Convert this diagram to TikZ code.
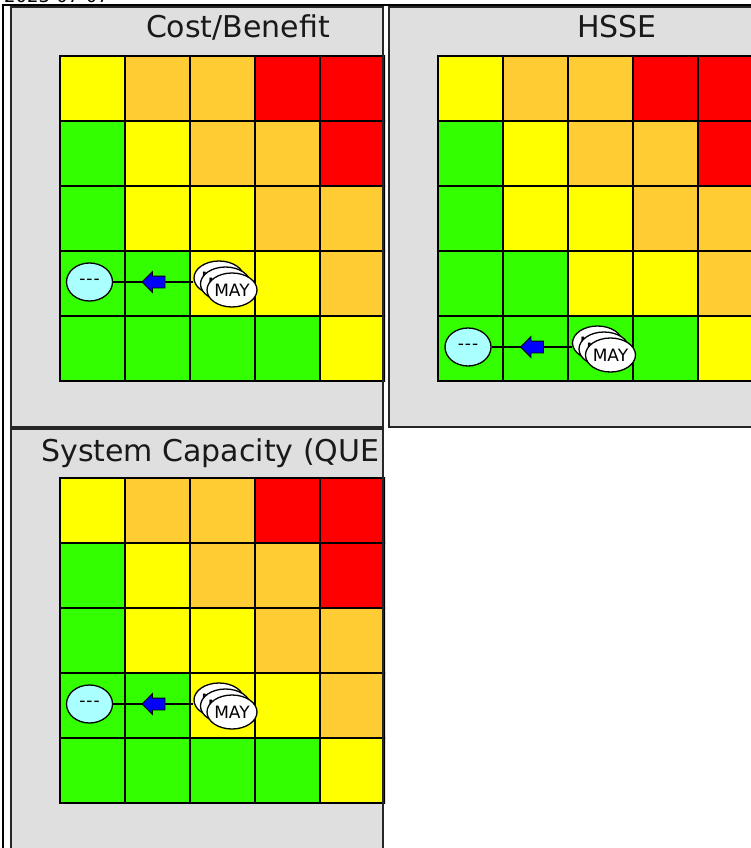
\documentclass[tikz,border=0pt]{standalone}
\usepackage{fontspec}
\setmainfont{DejaVu Sans}
\usepackage{xcolor}
\usetikzlibrary{shapes.geometric, shapes.arrows}
\definecolor{riskR}{HTML}{FF0000}
\definecolor{riskO}{HTML}{FFCC33}
\definecolor{riskY}{HTML}{FFFF00}
\definecolor{riskG}{HTML}{33FF00}
\definecolor{panelgrey}{HTML}{DFDFDF}
\definecolor{nonecyan}{HTML}{AAFFFF}
\definecolor{flowblue}{HTML}{0000FF}

% one 5x5 risk matrix, top left corner at (#1,#2)
\newcommand{\riskgrid}[2]{%
  \foreach \cellrow [count=\rowidx from 0] in
      {{Y,O,O,R,R},{G,Y,O,O,R},{G,Y,Y,O,O},{G,G,Y,Y,O},{G,G,G,G,Y}}
    \foreach \cellcol [count=\colidx from 0] in \cellrow
      \draw[cell, fill=risk\cellcol]
        ({#1+65*\colidx},{#2+65*\rowidx}) rectangle ++(65,65);%
}

\begin{document}
\begin{tikzpicture}[
    x=1pt, y=-1pt,
    every node/.style={font=\fontsize{17}{20}\selectfont},
    stamp/.style={font=\fontsize{18}{21}\selectfont, inner sep=0pt},
    panel/.style={draw=black!85, line width=1.5pt},
    cell/.style={draw=black, line width=1.6pt},
    title/.style={font=\fontsize{30}{36}\selectfont, text=black!90, inner sep=0pt},
    nonemark/.style={
      ellipse, draw=black, line width=1.3pt, fill=nonecyan,
      minimum width=46pt, minimum height=38pt, inner sep=0pt
    },
    maymark/.style={
      ellipse, draw=black, line width=1.3pt, fill=white,
      minimum width=44pt, minimum height=34pt, inner sep=0pt
    },
    link/.style={draw=black, line width=1.2pt},
    flowarrow/.style={
      single arrow, shape border rotate=180, fill=flowblue,
      draw=black, line width=0.8pt, minimum height=23pt,
      inner xsep=0pt, inner ysep=5.5pt,
      single arrow head extend=4.5pt, single arrow tip angle=90
    }
  ]

  % ===== page frame =====
  \useasboundingbox (0,0) rectangle (751,848);
  \node[stamp, anchor=base west] (stamp) at (4,2.5) {2023-07-07};
  \draw[line width=1.5pt] (760,4.8) -- (2.8,4.8) -- (2.8,860);

  % ===== Cost/Benefit =====
  \fill[panelgrey] (11,7) rectangle (383,427);
  \begin{scope}
    \clip (11,7) rectangle (385,427);
    \riskgrid{60}{56}
    \node[title, anchor=base] (cbtitle) at (238,38) {Cost/Benefit};
  \end{scope}
  \draw[panel] (11,7) rectangle (383,427);

  \node[nonemark] (cbnone) at (89.5,282) {-\kern1pt-\kern1pt-};
  \node[maymark] (cbmay1) at (219,278) {MAY};
  \node[maymark] (cbmay2) at (225.5,284) {MAY};
  \node[maymark] (cbmay3) at (232,290) {MAY};
  \draw[link] (cbnone -| cbmay1.west) -- node[flowarrow, pos=.46] {} (cbnone);

  % ===== HSSE =====
  \fill[panelgrey] (389,7) rectangle (760,427);
  \begin{scope}
    \clip (389,7) rectangle (760,427);
    \riskgrid{438}{56}
    \node[title, anchor=base] (hssetitle) at (617,38) {HSSE};
  \end{scope}
  \draw[panel] (389,7) rectangle (760,427);

  \node[nonemark] (hssenone) at (468,347) {-\kern1pt-\kern1pt-};
  \node[maymark] (hssemay1) at (597.5,343) {MAY};
  \node[maymark] (hssemay2) at (604,349) {MAY};
  \node[maymark] (hssemay3) at (610.5,355) {MAY};
  \draw[link] (hssenone -| hssemay1.west) -- node[flowarrow, pos=.46] {} (hssenone);

  % ===== System Capacity =====
  \fill[panelgrey] (11,429) rectangle (383,860);
  \begin{scope}
    \clip (11,429) rectangle (385,860);
    \riskgrid{60}{478}
    \node[title, anchor=base west] (sctitle) at (41,461) {System Capacity (QUE};
  \end{scope}
  \draw[panel] (11,429) rectangle (383,860);

  \node[nonemark] (scnone) at (89.5,704) {-\kern1pt-\kern1pt-};
  \node[maymark] (scmay1) at (219,700) {MAY};
  \node[maymark] (scmay2) at (225.5,706) {MAY};
  \node[maymark] (scmay3) at (232,712) {MAY};
  \draw[link] (scnone -| scmay1.west) -- node[flowarrow, pos=.46] {} (scnone);

\end{tikzpicture}
\end{document}
